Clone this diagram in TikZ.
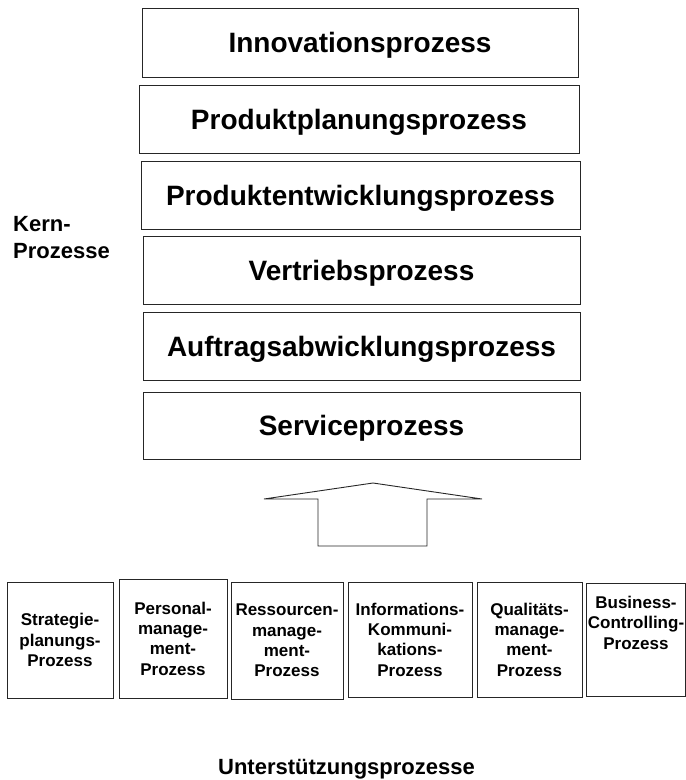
\documentclass[tikz,border=0pt]{standalone}
\usepackage{fontspec}
\setmainfont{Liberation Sans}
\begin{document}
\begin{tikzpicture}[x=1pt,y=-1pt,
  frame/.style={draw=black!85,line width=0.9pt,fill=white,inner sep=0pt},
  corebox/.style={frame,font=\bfseries\fontsize{28}{34}\selectfont,text height=20pt,text depth=0pt},
  supbox/.style={frame,font=\bfseries\fontsize{17}{20.3}\selectfont,align=center},
  label/.style={inner sep=0pt,font=\bfseries\fontsize{22}{27}\selectfont}]
\useasboundingbox (0,0) rectangle (686,780);

% core processes, stacked
\node[corebox,minimum width=436pt,minimum height=69pt] (innov) at (360,42.5) {Innovationsprozess};
\node[corebox,minimum width=440pt,minimum height=68pt] (plan)  at (359,119)  {Produktplanungsprozess};
\node[corebox,minimum width=439pt,minimum height=68pt] (dev)   at (360.5,195) {Produktentwicklungsprozess};
\node[corebox,minimum width=437pt,minimum height=68pt] (sales) at (361.5,270) {Vertriebsprozess};
\node[corebox,minimum width=437pt,minimum height=68pt] (order) at (361.5,346) {Auftragsabwicklungsprozess};
\node[corebox,minimum width=437pt,minimum height=67pt] (serv)  at (361.5,425.5) {Serviceprozess};

\node[label,anchor=north west,align=left] (kern) at (13,216) {Kern-\\Prozesse};

% block arrow pointing up from the support processes
\coordinate (tip) at (373,483);
\draw[black!85,line width=0.9pt,line join=miter]
  (264,499) -- (tip) -- (482,499) -- (427,499) -- (427,546) -- (318,546) -- (318,499) -- cycle;

% support processes
\node[supbox,minimum width=106pt,minimum height=116pt] (strat) at (60,640) {Strategie-\\planungs-\\Prozess};
\node[supbox,minimum width=108pt,minimum height=119pt] (pers)  at (173,638.5) {Personal-\\manage-\\ment-\\Prozess};
\node[supbox,minimum width=112pt,minimum height=117pt] (res)   at (287,640.5) {Ressourcen-\\manage-\\ment-\\Prozess};
\node[supbox,minimum width=124pt,minimum height=115pt] (info)  at (410,639.5) {Informations-\\Kommuni-\\kations-\\Prozess};
\node[supbox,minimum width=105pt,minimum height=115pt] (qual)  at (529.5,639.5) {Qualitäts-\\manage-\\ment-\\Prozess};
\node[frame,minimum width=99pt,minimum height=113pt] (bc) at (635.5,639.5) {};
\node[inner sep=0pt,font=\bfseries\fontsize{17}{20.3}\selectfont,align=center,anchor=north] (bctext) at (636,596) {Business-\\Controlling-\\Prozess};

\node[label,anchor=base] (unter) at (346.5,774) {Unterstützungsprozesse};
\end{tikzpicture}
\end{document}
